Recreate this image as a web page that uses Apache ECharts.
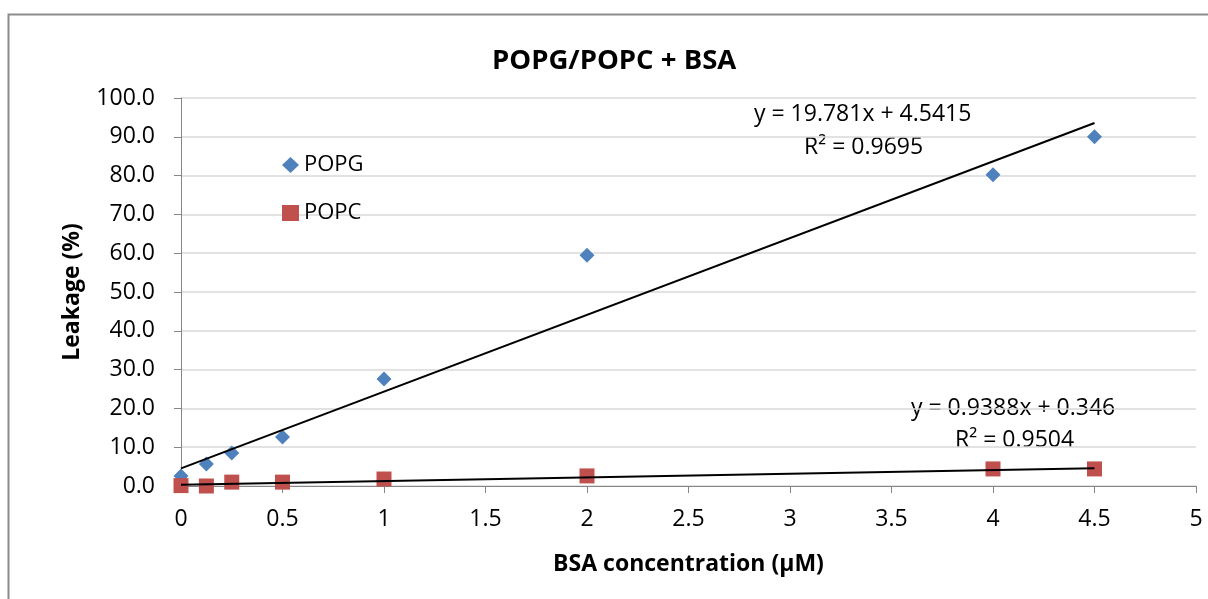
<!DOCTYPE html>
<html><head><meta charset="utf-8">
<script src="https://cdn.jsdelivr.net/npm/echarts@6/dist/echarts.min.js"></script>
<style>html,body{margin:0;padding:0;background:#fff}#c{width:1208px;height:599px}</style>
</head><body><div id="c"></div>
<script>
const xValues = [0, 0.125, 0.25, 0.5, 1, 2, 4, 4.5];
const popg = [2.6, 5.7, 8.5, 12.6, 27.6, 59.5, 80.2, 90.0];
const popc = [0.1, 0.0, 1.0, 1.0, 1.8, 2.6, 4.4, 4.4];
const popgFit = [19.781, 4.5415];
const popcFit = [0.9388, 0.346];
const fitRange = [0, 4.5];

const font = '"Open Sans", "Liberation Sans", sans-serif';
const fs = 23;
const chart = echarts.init(document.getElementById('c'));
const pts = ys => xValues.map((x, i) => [x, ys[i]]);
const line = f => fitRange.map(x => [x, f[0] * x + f[1]]);

chart.setOption({
  animation: false,
  title: { text: 'POPG/POPC + BSA', left: 487, top: 42,
    textStyle: { fontFamily: font, fontSize: 27.5, fontWeight: 'bold', color: '#000' } },
  legend: { orient: 'vertical', left: 277, top: 149, itemGap: 26, itemWidth: 17, itemHeight: 16,
    textStyle: { fontFamily: font, fontSize: 22, color: '#000' },
    data: ['POPG', 'POPC'] },
  grid: { left: 181, right: 12, top: 98, bottom: 113 },
  xAxis: { type: 'value', min: 0, max: 5, interval: 0.5,
    name: 'BSA concentration (μM)', nameLocation: 'middle', nameGap: 67,
    nameTextStyle: { fontFamily: font, fontSize: fs, fontWeight: 'bold', color: '#000' },
    axisLine: { lineStyle: { color: '#868686' } },
    axisTick: { show: true, length: 7, lineStyle: { color: '#868686' } },
    axisLabel: { fontFamily: font, fontSize: fs, color: '#000', margin: 22 },
    splitLine: { show: false } },
  yAxis: { type: 'value', min: 0, max: 100, interval: 10,
    name: 'Leakage (%)', nameLocation: 'middle', nameGap: 97,
    nameTextStyle: { fontFamily: font, fontSize: fs, fontWeight: 'bold', color: '#000' },
    axisLine: { show: true, lineStyle: { color: '#868686' } },
    axisTick: { show: true, length: 7, lineStyle: { color: '#868686' } },
    axisLabel: { fontFamily: font, fontSize: fs, color: '#000', margin: 26,
      formatter: v => v.toFixed(1) },
    splitLine: { lineStyle: { color: '#d9d9d9', width: 1.5 } } },
  graphic: [
    { type: 'rect', shape: { x: 8.5, y: 14.5, width: 1400, height: 800 },
      style: { fill: 'none', stroke: '#8c8c8c', lineWidth: 2 }, z: -1 },
    { type: 'text', left: 754, top: 103, style: { text: 'y = 19.781x + 4.5415',
      font: fs + 'px ' + font, fill: '#000' } },
    { type: 'text', left: 804, top: 136, style: { text: 'R² = 0.9695',
      font: fs + 'px ' + font, fill: '#000' } },
    { type: 'text', left: 911, top: 397, style: { text: 'y = 0.9388x + 0.346',
      font: fs + 'px ' + font, fill: '#000' } },
    { type: 'text', left: 955, top: 429, style: { text: 'R² = 0.9504',
      font: fs + 'px ' + font, fill: '#000' } }
  ],
  series: [
    { name: 'POPG fit', type: 'line', data: line(popgFit), symbol: 'none',
      lineStyle: { color: '#000', width: 2 }, z: 3, silent: true },
    { name: 'POPC fit', type: 'line', data: line(popcFit), symbol: 'none',
      lineStyle: { color: '#000', width: 2 }, z: 3, silent: true },
    { name: 'POPG', type: 'scatter', data: pts(popg), symbol: 'diamond', symbolSize: 15,
      itemStyle: { color: '#4F81BD', opacity: 1 }, z: 2 },
    { name: 'POPC', type: 'scatter', data: pts(popc), symbol: 'rect', symbolSize: 15,
      itemStyle: { color: '#C0504D', opacity: 1 }, z: 2 }
  ]
});
</script></body></html>
